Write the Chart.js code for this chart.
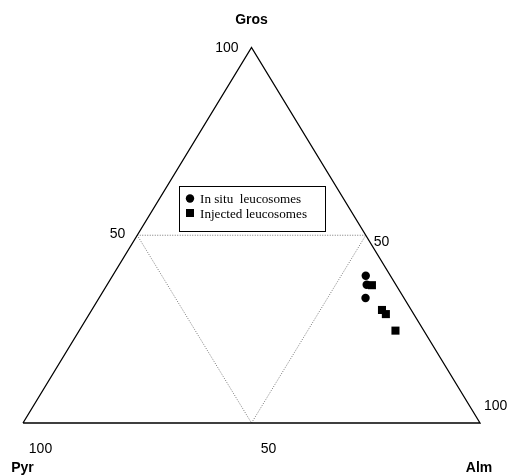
<!DOCTYPE html>
<html>
<head>
<meta charset="utf-8">
<script src="https://cdn.jsdelivr.net/npm/chart.js@4"></script>
<style>
  html, body { margin: 0; padding: 0; background: #ffffff; }
  #c { display: block; }
</style>
</head>
<body>
<canvas id="c" width="510" height="475"></canvas>
<script>
// Garnet end-member proportions (mol %): grossular, pyrope, almandine
const insituGros = [39.2, 36.8, 33.3];
const insituPyr  = [5.4, 6.4, 8.4];
const insituAlm  = [55.4, 56.8, 58.3];

const injectedGros = [36.7, 30.1, 29.0, 24.6];
const injectedPyr  = [5.3, 6.4, 6.1, 6.2];
const injectedAlm  = [58.0, 63.5, 64.9, 69.2];

const seriesNames = ['In situ  leucosomes', 'Injected leucosomes'];
const apexNames = ['Gros', 'Pyr', 'Alm'];
const tickLabels = ['100', '50'];

// ternary (Gros, Pyr, Alm) -> cartesian: Pyr apex at (0,0), Alm at (100,0), Gros at (50,100)
function toXY(g, p, a) {
  const s = g + p + a;
  const G = 100 * g / s, A = 100 * a / s;
  return { x: A + G / 2, y: G };
}
function series(gs, ps, as) {
  return gs.map((g, i) => toXY(g, ps[i], as[i]));
}

const outline = [toXY(0, 100, 0), toXY(0, 0, 100), toXY(100, 0, 0), toXY(0, 100, 0)];
const midTriangle = [toXY(50, 50, 0), toXY(50, 0, 50), toXY(0, 50, 50), toXY(50, 50, 0)];

const labelPlugin = {
  id: 'ternaryLabels',
  afterDraw(chart) {
    const ctx = chart.ctx;
    const xs = chart.scales.x, ys = chart.scales.y;
    const px = p => ({ x: xs.getPixelForValue(p.x), y: ys.getPixelForValue(p.y) });
    const top = px(toXY(100, 0, 0));
    const left = px(toXY(0, 100, 0));
    const right = px(toXY(0, 0, 100));
    const midL = px(toXY(50, 50, 0));
    const midR = px(toXY(50, 0, 50));
    const midB = px(toXY(0, 50, 50));

    ctx.save();
    ctx.fillStyle = '#000';
    ctx.textBaseline = 'middle';

    // apex names
    ctx.font = 'bold 14px "Liberation Sans", Arial, sans-serif';
    ctx.textAlign = 'center';
    ctx.fillText(apexNames[0], top.x, top.y - 27.5);
    ctx.fillText(apexNames[1], left.x - 0.5, left.y + 45);
    ctx.fillText(apexNames[2], right.x - 1, right.y + 45);

    // tick labels
    ctx.font = '14px "Liberation Sans", Arial, sans-serif';
    ctx.textAlign = 'right';
    ctx.fillText(tickLabels[0], top.x - 13, top.y + 1);
    ctx.fillText(tickLabels[1], midL.x - 12, midL.y - 1);
    ctx.textAlign = 'left';
    ctx.fillText(tickLabels[1], midR.x + 8, midR.y + 7);
    ctx.fillText(tickLabels[0], right.x + 4, right.y - 17);
    ctx.textAlign = 'center';
    ctx.fillText(tickLabels[0], left.x + 17.5, left.y + 26);
    ctx.fillText(tickLabels[1], midB.x + 17, midB.y + 26);

    // legend box
    const bx = 179.5, by = 186.5, bw = 146, bh = 45;
    ctx.fillStyle = '#fff';
    ctx.fillRect(bx, by, bw, bh);
    ctx.strokeStyle = '#000';
    ctx.lineWidth = 1;
    ctx.strokeRect(bx, by, bw, bh);

    ctx.fillStyle = '#000';
    ctx.beginPath();
    ctx.arc(190, 198.5, 4.2, 0, Math.PI * 2);
    ctx.fill();
    ctx.fillRect(186, 209, 8, 8);

    ctx.font = '12px "Liberation Serif", "Times New Roman", serif';
    ctx.textAlign = 'left';
    ctx.textBaseline = 'alphabetic';
    const w = ctx.measureText(seriesNames[1]).width;
    const sx = 107 / w;
    [[seriesNames[0], 202.5], [seriesNames[1], 217.5]].forEach(([t, y]) => {
      ctx.save();
      ctx.translate(200, y);
      ctx.scale(sx, 1);
      ctx.fillText(t, 0, 0);
      ctx.restore();
    });
    ctx.restore();
  }
};

new Chart(document.getElementById('c'), {
  type: 'scatter',
  data: {
    datasets: [
      {
        label: seriesNames[0],
        data: series(insituGros, insituPyr, insituAlm),
        pointStyle: 'circle',
        pointRadius: 4.2,
        pointBorderWidth: 0,
        backgroundColor: '#000',
        borderColor: '#000'
      },
      {
        label: seriesNames[1],
        data: series(injectedGros, injectedPyr, injectedAlm),
        pointStyle: 'rect',
        pointRadius: 5.7,
        pointBorderWidth: 0,
        backgroundColor: '#000',
        borderColor: '#000'
      },
      {
        label: 'outline',
        data: outline,
        showLine: true,
        pointRadius: 0,
        borderColor: '#000',
        borderWidth: 1.3,
        fill: false
      },
      {
        label: 'mid',
        data: midTriangle,
        showLine: true,
        pointRadius: 0,
        borderColor: '#777',
        borderWidth: 1,
        borderDash: [1, 1.5],
        fill: false
      }
    ]
  },
  options: {
    responsive: false,
    animation: false,
    devicePixelRatio: 1,
    layout: { padding: 0, autoPadding: false },
    scales: {
      x: { type: 'linear', min: -5.03, max: 106.56, display: false },
      y: { type: 'linear', min: -13.85, max: 112.65, display: false }
    },
    plugins: {
      legend: { display: false },
      tooltip: { enabled: false }
    }
  },
  plugins: [labelPlugin]
});
</script>
</body>
</html>
